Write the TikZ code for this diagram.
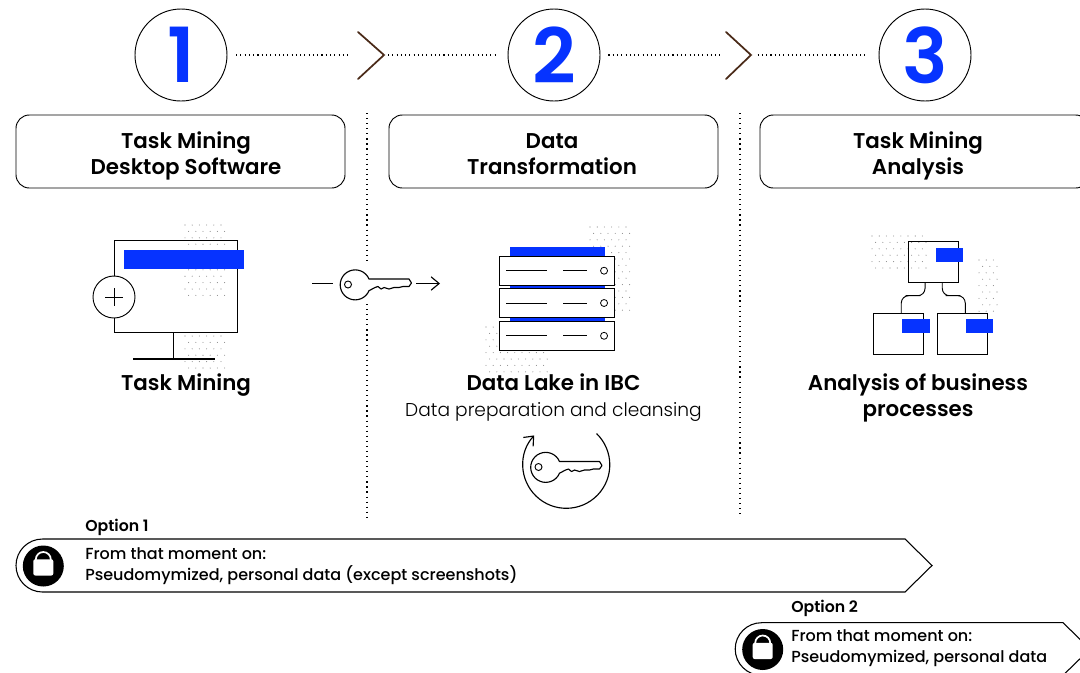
\documentclass[tikz,border=0pt]{standalone}
\usepackage{fontspec}
\setmainfont{Poppins}
\newfontfamily\semifont{Poppins SemiBold}
\newfontfamily\lightfont{Poppins Light}
\newfontfamily\mediumfont{Poppins Medium}
\usetikzlibrary{arrows.meta,calc}
\definecolor{markblue}{HTML}{0633FF}
\definecolor{chevbrown}{HTML}{4A2A18}
\newcommand{\fsize}[1]{\fontsize{#1}{#1}\selectfont}
\tikzset{
  stepnum/.style={
    circle, draw, line width=.7pt,
    minimum size=69pt,
    inner sep=0pt,
    text=markblue,
    font=\semifont\fsize{57}
  },
  headbox/.style={
    draw, line width=.7pt,
    rounded corners=10pt,
    minimum width=246.75pt,
    minimum height=54.75pt
  },
  headlabel/.style={
    align=center,
    inner sep=0pt,
    font=\semifont\fontsize{16.03}{19.5}\selectfont
  },
  sublabel/.style={
    inner sep=0pt,
    font=\lightfont\fsize{13.95}
  },
  optlabel/.style={
    anchor=base west,
    inner sep=0pt,
    font=\semifont\fsize{11.8}
  },
  notelabel/.style={
    anchor=base west,
    inner sep=0pt,
    font=\mediumfont\fsize{12}
  },
  dotline/.style={
    line width=.8pt,
    dash pattern=on .8pt off 2.4pt
  },
  sepline/.style={
    line width=.9pt,
    dash pattern=on .9pt off 2.9pt
  },
  chev/.style={
    chevbrown, line width=1.3pt, line cap=round
  },
  bluebar/.style={
    fill=markblue, draw=none
  },
  icon/.style={
    draw, line width=.7pt, fill=white,
    inner sep=0pt, minimum width=37.5pt, minimum height=30.5pt
  },
  rack/.style={
    draw, line width=.7pt, fill=white,
    inner sep=0pt, minimum width=86pt, minimum height=22pt
  },
  keyicon/.pic={
    \draw[line width=.85pt, fill=white, line join=round]
      (14,5.5) arc[start angle=23, end angle=337, radius=15]
      -- (20,-3) -- (23,-2) -- (26,-4.5) -- (29,-3) -- (34,-4.5) -- (39,-3)
      -- (44,-3) -- (48,-2) -- (54,-2) -- (56.5,1.5) -- (54,5.5) -- cycle;
    \draw[line width=.7pt] (-7,0) circle (3.5);
  },
  lockicon/.pic={
    \fill (0,0) circle (20.5);
    \draw[white, line width=1.3pt] (-7.5,6) -- (-7.5,6.5) arc[start angle=180, end angle=0, radius=7.5] -- (7.5,6);
    \fill[white, rounded corners=1.5pt] (-10,6.7) rectangle (10,-9.5);
  }
}
\newcommand{\dotfield}[4]{
  \foreach \ix in {0,...,#3}
    \foreach \iy in {0,...,#4}
      \fill[black!45] ({#1+7.2*\ix+3.6*mod(\iy,2)},{-(#2+6.4*\iy)}) circle (.55);
}
\begin{document}
\begin{tikzpicture}[x=.75pt, y=.75pt, >={Straight Barb[length=6pt,width=10pt]}]
    \clip (0,-672) rectangle (1080,0);

    %% Step numbers
    \node[stepnum] (num1) at (181,-55) {1};
    \node[stepnum] (num2) at (554,-55) {2};
    \node[stepnum] (num3) at (925,-55) {3};

    %% Chevrons
    \coordinate (chev1) at (384,-55);
    \coordinate (chev2) at (751,-55);
    \draw[chev] (358,-32) -- (chev1) -- (358,-79);
    \draw[chev] (726,-32) -- (chev2) -- (726,-79);
    \draw[dotline, shorten <=6.5pt, shorten >=27pt] (num1.east) -- (chev1);
    \draw[dotline, shorten <=3pt, shorten >=7.5pt] (chev1) -- (num2.west);
    \draw[dotline, shorten <=6pt, shorten >=22pt] (num2.east) -- (chev2);
    \draw[dotline, shorten <=5pt, shorten >=7.5pt] (chev2) -- (num3.west);

    %% Head boxes
    \node[headbox] (box1) at (180.5,-151.5) {};
    \node[headbox] (box2) at (553.5,-151.5) {};
    \node[headbox] (box3) at (924.5,-151.5) {};
    \node[headlabel] (head1) at (186,-156) {Task Mining\\Desktop Software};
    \node[headlabel] (head2) at (552,-154) {Data\\Transformation};
    \node[headlabel] (head3) at (918,-156) {Task Mining\\Analysis};

    %% Separators
    \coordinate (sep1a) at (367,-113);
    \coordinate (sep1b) at (367,-260);
    \coordinate (sep1c) at (367,-304);
    \coordinate (sep1d) at (367,-518);
    \coordinate (sep2a) at (740,-113);
    \coordinate (sep2b) at (740,-518);
    \draw[sepline] (sep1a) -- (sep1b);
    \draw[sepline] (sep1c) -- (sep1d);
    \draw[sepline] (sep2a) -- (sep2b);

    %% Monitor
    \dotfield{185}{225}{5}{11}
    \dotfield{185}{336}{5}{5}
    \draw[line width=.7pt] (114,-240) rectangle (237,-332);
    \fill[bluebar] (123.5,-250) rectangle (243.5,-268.5);
    \node[circle, draw, line width=.7pt, fill=white, minimum size=31.5pt, inner sep=0pt] (plus) at (114,-297) {};
    \draw[line width=.6pt] (105,-297) -- (123,-297) (114,-288) -- (114,-306);
    \draw[line width=.7pt] (173.5,-332) -- (173.5,-359);
    \draw[line width=.8pt] (133,-359) -- (215,-359);
    \node[headlabel] (task) at (186,-385) {Task Mining};

    %% Key between steps
    \pic at (355,-284.5) {keyicon};
    \coordinate (keyin) at (312,-283.5);
    \coordinate (keyina) at (333,-283.5);
    \coordinate (keyout) at (416,-283.5);
    \coordinate (keyouta) at (440,-283.5);
    \draw[line width=.85pt] (keyin) -- (keyina);
    \draw[->, line width=.85pt] (keyout) -- (keyouta);

    %% Server
    \dotfield{590}{227}{5}{13}
    \dotfield{486}{327}{8}{7}
    \fill[bluebar] (510,-247) rectangle (605,-322);
    \node[rack] (rack1) at (557.25,-270.7) {};
    \node[rack] (rack2) at (557.25,-303) {};
    \node[rack] (rack3) at (557.25,-335.8) {};
    \foreach \r in {1,2,3} {
      \draw[line width=.6pt] ($(rack\r.west)+(5.25pt,0)$) -- +(30.75pt,0);
      \draw[line width=.6pt] ($(rack\r.west)+(48pt,0)$) -- +(18pt,0);
      \draw[line width=.6pt] ($(rack\r.east)+(-8.25pt,0)$) circle (3.5);
    }
    \node[headlabel] (lake) at (553.5,-382.5) {Data Lake in IBC};
    \node[sublabel] (prep) at (553.5,-412) {Data preparation and cleansing};

    %% Rotating key
    \pic at (545.5,-467) {keyicon};
    \coordinate (turn) at (596.5,-433.5);
    \draw[->, line width=.85pt] (turn) arc[start angle=46, end angle=-222.5, radius=43.5];

    %% Process tree
    \dotfield{872}{236}{7}{5}
    \dotfield{979}{260}{2}{8}
    \node[icon, fill=none] (proctop) at (933.3,-262) {};
    \node[icon, fill=none] (procleft) at (898.6,-333.7) {};
    \node[icon, fill=none] (procright) at (962.6,-333.7) {};
    \fill[bluebar] (936,-248) rectangle (963,-262);
    \fill[bluebar] (902,-319) rectangle (929.5,-333);
    \fill[bluebar] (966,-319) rectangle (993,-333);
    \coordinate (procmid) at (913,-295.7);
    \coordinate (procmidb) at (953,-295.7);
    \draw[line width=.7pt, rounded corners=5.5pt] ([xshift=-6.2pt]proctop.south) |- (procmid) -| ([xshift=2pt]procleft.north);
    \draw[line width=.7pt, rounded corners=5.5pt] ([xshift=6.7pt]proctop.south) |- (procmidb) -| ([xshift=2pt]procright.north);
    \node[headlabel] (analysis) at (918,-398) {Analysis of business\\processes};

    %% Option 1
    \node[optlabel] (opt1) at (85,-531) {Option 1};
    \draw[line width=.8pt] (42.5,-539) -- (905,-539) -- (932,-565.5) -- (905,-592) -- (42.5,-592)
      arc[start angle=270, end angle=90, radius=26.5] -- cycle;
    \pic at (43.3,-566) {lockicon};
    \node[notelabel] (note1a) at (85,-559.5) {From that moment on:};
    \node[notelabel] (note1b) at (85,-580.5) {Pseudomymized, personal data (except screenshots)};

    %% Option 2
    \node[optlabel] (opt2) at (791,-612) {Option 2};
    \draw[line width=.8pt] (761.5,-622.7) -- (1063,-622.7) -- (1090,-649) -- (1063,-675.3) -- (761.5,-675.3)
      arc[start angle=270, end angle=90, radius=26.3] -- cycle;
    \pic at (762.7,-649.5) {lockicon};
    \node[notelabel] (note2a) at (791,-641) {From that moment on:};
    \node[notelabel] (note2b) at (791,-662) {Pseudomymized, personal data};
\end{tikzpicture}
\end{document}
